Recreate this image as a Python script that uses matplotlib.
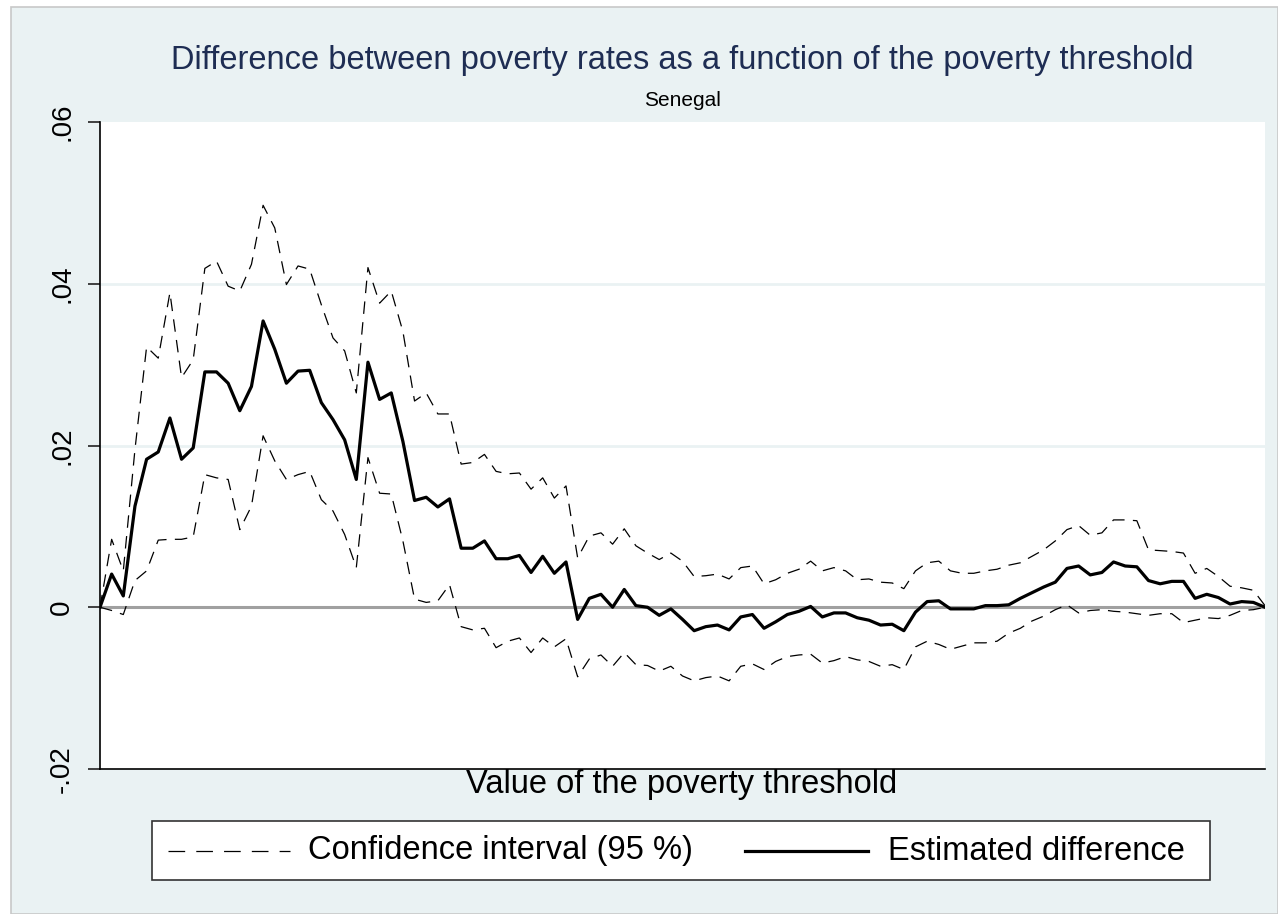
import matplotlib
matplotlib.use("Agg")
import numpy as np
import matplotlib.pyplot as plt
from matplotlib.patches import Rectangle

# poverty threshold grid (101 evaluation points, axis has no labels)
threshold = list(range(101))

estimated = [
    0.0, 0.0041, 0.0014, 0.0125, 0.0183, 0.0192, 0.0234, 0.0183, 0.0197, 0.0291,
    0.0291, 0.0277, 0.0243, 0.0273, 0.0354, 0.0319, 0.0277, 0.0292, 0.0293, 0.0253,
    0.0232, 0.0207, 0.0158, 0.0303, 0.0257, 0.0265, 0.0205, 0.0132, 0.0136, 0.0124,
    0.0134, 0.0073, 0.0073, 0.0082, 0.0060, 0.0060, 0.0064, 0.0043, 0.0063, 0.0042,
    0.0056, -0.0015, 0.0011, 0.0016, 0.0000, 0.0022, 0.0002, 0.0000, -0.0010, -0.0002,
    -0.0015, -0.0029, -0.0024, -0.0022, -0.0028, -0.0012, -0.0009, -0.0026, -0.0018, -0.0009,
    -0.0005, 0.0001, -0.0012, -0.0007, -0.0007, -0.0013, -0.0016, -0.0022, -0.0021, -0.0029,
    -0.0006, 0.0007, 0.0008, -0.0002, -0.0002, -0.0002, 0.0002, 0.0002, 0.0003, 0.0011,
    0.0018, 0.0025, 0.0031, 0.0048, 0.0051, 0.0040, 0.0043, 0.0056, 0.0051, 0.0050,
    0.0033, 0.0029, 0.0032, 0.0032, 0.0011, 0.0016, 0.0012, 0.0004, 0.0007, 0.0006,
    0.0000,
]

ci_upper = [
    0.0, 0.0084, 0.0045, 0.0195, 0.0322, 0.0308, 0.0389, 0.0284, 0.0306, 0.0419,
    0.0428, 0.0397, 0.0391, 0.0424, 0.0497, 0.0469, 0.0399, 0.0422, 0.0418, 0.0374,
    0.0333, 0.0317, 0.0265, 0.0420, 0.0376, 0.0391, 0.0341, 0.0255, 0.0265, 0.0239,
    0.0239, 0.0177, 0.0179, 0.0189, 0.0168, 0.0165, 0.0166, 0.0146, 0.0160, 0.0135,
    0.0150, 0.0061, 0.0088, 0.0092, 0.0078, 0.0097, 0.0076, 0.0067, 0.0059, 0.0067,
    0.0057, 0.0038, 0.0039, 0.0041, 0.0035, 0.0049, 0.0051, 0.0029, 0.0034, 0.0042,
    0.0047, 0.0057, 0.0045, 0.0049, 0.0045, 0.0034, 0.0035, 0.0031, 0.0030, 0.0023,
    0.0045, 0.0055, 0.0057, 0.0045, 0.0042, 0.0042, 0.0045, 0.0047, 0.0052, 0.0055,
    0.0063, 0.0071, 0.0082, 0.0096, 0.0101, 0.0089, 0.0092, 0.0108, 0.0108, 0.0107,
    0.0071, 0.0070, 0.0069, 0.0067, 0.0042, 0.0048, 0.0038, 0.0026, 0.0024, 0.0021,
    0.0002,
]

ci_lower = [
    0.0, -0.0004, -0.0009, 0.0033, 0.0045, 0.0083, 0.0084, 0.0084, 0.0087, 0.0164,
    0.0160, 0.0158, 0.0096, 0.0125, 0.0212, 0.0181, 0.0158, 0.0164, 0.0168, 0.0133,
    0.0119, 0.0090, 0.0049, 0.0185, 0.0141, 0.0140, 0.0082, 0.0010, 0.0006, 0.0008,
    0.0028, -0.0024, -0.0028, -0.0026, -0.0050, -0.0042, -0.0038, -0.0056, -0.0038, -0.0049,
    -0.0039, -0.0086, -0.0064, -0.0059, -0.0073, -0.0056, -0.0071, -0.0072, -0.0079, -0.0073,
    -0.0085, -0.0091, -0.0087, -0.0085, -0.0091, -0.0073, -0.0070, -0.0077, -0.0067, -0.0061,
    -0.0059, -0.0058, -0.0069, -0.0066, -0.0061, -0.0065, -0.0067, -0.0073, -0.0071, -0.0077,
    -0.0049, -0.0042, -0.0046, -0.0052, -0.0048, -0.0044, -0.0044, -0.0042, -0.0032, -0.0026,
    -0.0017, -0.0011, -0.0003, 0.0003, -0.0007, -0.0004, -0.0003, -0.0005, -0.0006, -0.0008,
    -0.0010, -0.0008, -0.0008, -0.0019, -0.0016, -0.0013, -0.0014, -0.0010, -0.0004, -0.0003,
    0.0,
]

yticks = [-0.02, 0.0, 0.02, 0.04, 0.06]
ytick_labels = ["-.02", "0", ".02", ".04", ".06"]

bg = "#EAF2F3"
navy = "#1E2D53"

plt.rcParams["font.family"] = ["Liberation Sans", "DejaVu Sans"]
plt.rcParams["lines.scale_dashes"] = False


def main():
    fig = plt.figure(figsize=(12.78, 9.14), dpi=100)
    fig.patch.set_facecolor("white")
    fig.patches.append(Rectangle((11 / 1278, 0.0), 1 - 11 / 1278, 1 - 7 / 914,
                                 transform=fig.transFigure, facecolor=bg,
                                 edgecolor="#C8C8C8", lw=1.2, zorder=-10))

    ax = fig.add_axes([100 / 1278, 1 - 769 / 914, 1165 / 1278, 647 / 914])
    ax.set_facecolor("white")

    for v in [0.02, 0.04]:
        ax.axhline(v, color=bg, lw=2.0, zorder=1)
    ax.axhline(0.0, color="#A0A0A0", lw=2.2, zorder=2)

    ax.plot(threshold, ci_upper, color="black", lw=0.9, dashes=(9, 6), zorder=3)
    ax.plot(threshold, ci_lower, color="black", lw=0.9, dashes=(9, 6), zorder=3)
    ax.plot(threshold, estimated, color="black", lw=2.3, zorder=4)

    ax.set_xlim(0, 100)
    ax.set_ylim(-0.02, 0.06)
    ax.set_xticks([])
    ax.set_yticks(yticks)
    ax.set_yticklabels(ytick_labels, rotation=90, va="center", fontsize=20)
    ax.tick_params(axis="y", length=9, width=1.2, pad=9, color="#222222")

    for side in ["top", "right"]:
        ax.spines[side].set_visible(False)
    ax.spines["left"].set_linewidth(1.2)
    ax.spines["bottom"].set_linewidth(1.2)

    fig.text(682 / 1278, 1 - 60 / 914, "Difference between poverty rates as a function of the poverty threshold",
             ha="center", va="center", fontsize=23.5, color=navy)
    fig.text(682 / 1278, 1 - 101 / 914, "Senegal", ha="center", va="center", fontsize=15, color="black")
    fig.text(682 / 1278, 1 - 784 / 914, "Value of the poverty threshold", ha="center", va="center",
             fontsize=23.5, color="black")

    # legend
    lx0, ly0, lx1, ly1 = 152 / 1278, 1 - 880 / 914, 1210 / 1278, 1 - 821 / 914
    fig.patches.append(Rectangle((lx0, ly0), lx1 - lx0, ly1 - ly0, transform=fig.transFigure,
                                 facecolor="white", edgecolor="#333333", lw=1.2, zorder=1))
    ymid = 1 - 851 / 914
    fig.lines.append(plt.Line2D([168 / 1278, 290 / 1278], [ymid, ymid], transform=fig.transFigure,
                                color="black", lw=0.9, dashes=(12, 8), zorder=2))
    fig.text(308 / 1278, ymid, "Confidence interval (95 %)", ha="left", va="center", fontsize=23.5)
    fig.lines.append(plt.Line2D([745 / 1278, 868 / 1278], [ymid, ymid], transform=fig.transFigure,
                                color="black", lw=2.3, zorder=2))
    fig.text(888 / 1278, ymid, "Estimated difference", ha="left", va="center", fontsize=23.5)

    fig.savefig("out.png", dpi=100, facecolor=fig.get_facecolor())


if __name__ == "__main__":
    main()
